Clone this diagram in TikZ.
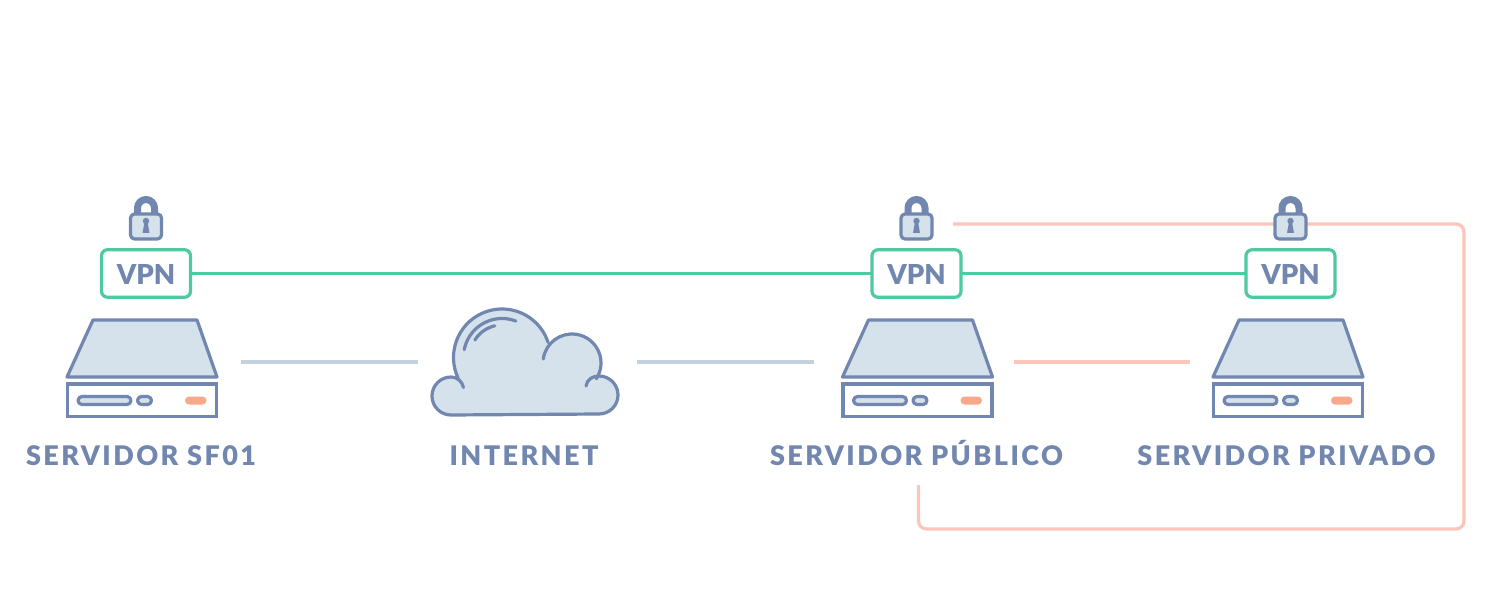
\documentclass[tikz,border=0pt]{standalone}
\usepackage{fontspec}
\setmainfont{Lato Black}
\newfontfamily\spacedfont{Lato Black}[LetterSpace=9]
\usetikzlibrary{backgrounds}
\definecolor{slate}{HTML}{7187AF}
\definecolor{paleblue}{HTML}{D5E1EB}
\definecolor{vpngreen}{HTML}{4FC9A0}
\definecolor{pinkline}{HTML}{FBC5BA}
\definecolor{greyline}{HTML}{C3D0DD}
\definecolor{ledorange}{HTML}{FAA88A}
\tikzset{
	body/.style={draw=slate,fill=paleblue,line width=3.2pt,line join=round},
	vpnbox/.style={draw=vpngreen,fill=white,line width=3.2pt,rounded corners=6pt,minimum width=89pt,minimum height=47.5pt,inner sep=0,outer sep=0,text=slate,text height=23pt,text depth=0pt,font=\fontsize{27.5}{27.5}\selectfont},
	lockbox/.style={body,rounded corners=4pt,minimum width=31pt,minimum height=25pt,inner sep=0,outer sep=0},
	serverbox/.style={minimum width=152pt,minimum height=10pt,inner sep=0,outer sep=0},
	caption/.style={text=slate,text height=20pt,text depth=0pt,inner sep=0,outer sep=0,font=\fontsize{27}{27}\selectfont\spacedfont},
	tunnel/.style={vpngreen,line width=3.2pt},
	wire/.style={greyline,line width=3.2pt},
	privwire/.style={pinkline,line width=3.2pt}
}
\begin{document}
\begin{tikzpicture}[x=1pt,y=1pt]
	\useasboundingbox (0,0) rectangle (1491,603);
	\foreach [count=\n] \x/\k in {142/146,917.5/916.5,1288/1290.5}{
		% server
		\node [serverbox] at (\x,241) (server \n) {};
		\draw [body] (\x-49,283) -- (\x+55,283) -- (\x+75,226) -- (\x-75,226) -- cycle;
		\draw [draw=slate,fill=white,line width=3.2pt] (\x-74.5,186.5) rectangle (\x+74.5,219);
		\draw [body,rounded corners=4pt] (\x-64,198.5) rectangle (\x-11,206.5);
		\draw [body,rounded corners=4pt] (\x-4.5,198.5) rectangle (\x+9.5,206.5);
		\fill [ledorange,rounded corners=4pt] (\x+43,198.5) rectangle (\x+64.5,206.5);
		% lock
		\draw [slate,line width=7pt] (\k-8.5,378) -- (\k-8.5,395) arc (180:0:8.5) -- (\k+8.5,378);
		\node [lockbox] at (\k,376.5) (lock \n) {};
		\fill [slate] (\k,382) circle (3.2);
		\fill [slate] (\k-1.5,381) -- (\k+1.5,381) -- (\k+3.5,370) -- (\k-3.5,370) -- cycle;
		% vpn
		\node [vpnbox] at (\k,329.5) (vpn \n) {VPN};
	}

	\node [caption] at (141,148) (label 1) {SERVIDOR SF01};
	\node [caption] at (524,148) (label 2) {INTERNET};
	\node [caption] at (916.5,148) (label 3) {SERVIDOR PÚBLICO};
	\node [caption] at (1286.5,148) (label 4) {SERVIDOR PRIVADO};

	% cloud
	\fill [paleblue] (451,207) circle (19);
	\fill [paleblue] (599,208) circle (19);
	\fill [paleblue] (502,246) circle (49);
	\fill [paleblue] (572,240) circle (29.5);
	\fill [paleblue] (451,189) rectangle (599,220);
	\fill [paleblue] (480,189) rectangle (575,245);
	\draw [slate,line width=3.2pt,line cap=round] (463.5,215.5) .. controls (462,222) and (457,226) .. (451,226) arc (90:270:19) -- (599,189) arc (-90:90:19) .. controls (593,227) and (587,224) .. (586,217);
	\draw [slate,line width=3.2pt,line cap=round] (502,245.5) ++(205:48.5) arc (205:18:48.5);
	\draw [slate,line width=3.2pt,line cap=round] (572,240) ++(172:29) arc (172:-33:29);
	\draw [slate,line width=3.2pt,line cap=round] (502,246) ++(169:38.5) arc (169:69:38.5);
	\draw [slate,line width=3.2pt,line cap=round] (502,246) ++(148:32) arc (148:103:32);
	\node [minimum width=186pt,minimum height=10pt,inner sep=0,outer sep=0] at (525,241) (cloud) {};

	\coordinate (corner a) at (1464,379);
	\coordinate (corner b) at (1464,74);
	\coordinate (corner c) at (918.5,74);

	\begin{scope}[on background layer]
		\draw [tunnel] (vpn 1) to (vpn 2);
		\draw [tunnel] (vpn 2) to (vpn 3);

		\draw [wire,shorten <=23pt,shorten >=14pt] (server 1) to (cloud);
		\draw [wire,shorten <=19pt,shorten >=28pt] (cloud) to (server 2);
		\draw [privwire,shorten <=20pt,shorten >=22pt] (server 2) to (server 3);

		\draw [privwire,rounded corners=8pt,shorten <=21pt,shorten >=20pt] (lock 2.east |- corner a) -- (corner a) -- (corner b) -- (corner c) -- (corner c |- label 3.south);
	\end{scope}
\end{tikzpicture}
\end{document}
